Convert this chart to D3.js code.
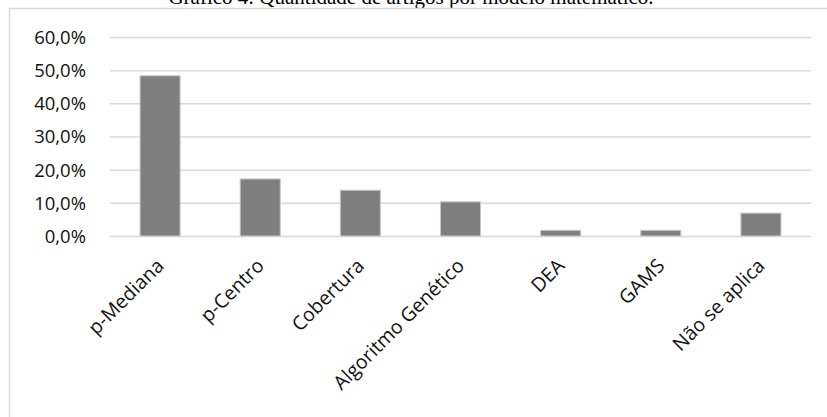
<!DOCTYPE html>
<html>
<head>
<meta charset="utf-8">
<script src="https://cdn.jsdelivr.net/npm/d3@7"></script>
<style>
  html, body { margin: 0; padding: 0; background: #fff; }
  svg { display: block; }
</style>
</head>
<body>
<svg id="chart" width="827" height="417"></svg>
<script>
// Share of articles per mathematical model
const categories = ["p-Mediana", "p-Centro", "Cobertura", "Algoritmo Genético", "DEA", "GAMS", "Não se aplica"];
const values = [0.483, 0.172, 0.138, 0.103, 0.017, 0.017, 0.069];
const yTicks = [0, 0.1, 0.2, 0.3, 0.4, 0.5, 0.6];
const title = "Gráfico 4: Quantidade de artigos por modelo matemático.";

const svg = d3.select("#chart");
const W = 827, H = 417;
const plot = { left: 110, right: 811, top: 37, bottom: 236 };
const labelFont = "'Open Sans', sans-serif";

// Title (sits above the chart frame)
svg.append("text")
  .attr("x", 411)
  .attr("y", 4)
  .attr("text-anchor", "middle")
  .attr("font-family", "'Liberation Serif', 'Times New Roman', serif")
  .attr("font-size", 21)
  .attr("fill", "#000")
  .text(title);

// Chart frame
svg.append("rect")
  .attr("x", 9.5).attr("y", 8.5)
  .attr("width", W + 10).attr("height", H + 10)
  .attr("fill", "#fff")
  .attr("stroke", "#d9d9d9")
  .attr("stroke-width", 1.5);

const x = d3.scaleBand()
  .domain(categories)
  .range([plot.left, plot.right])
  .paddingInner(0.6)
  .paddingOuter(0.3);

const y = d3.scaleLinear()
  .domain([0, 0.6])
  .range([plot.bottom, plot.top]);

const fmt = v => d3.format(".1f")(v * 100).replace(".", ",") + "%";

// Gridlines
svg.append("g")
  .attr("transform", `translate(${plot.left},0)`)
  .call(d3.axisLeft(y).tickValues(yTicks).tickSize(-(plot.right - plot.left)).tickFormat(""))
  .call(g => g.select(".domain").remove())
  .call(g => g.selectAll(".tick line").attr("stroke", "#d9d9d9").attr("stroke-width", 1.5));

// Y axis labels
svg.append("g")
  .attr("transform", "translate(86,0)")
  .call(d3.axisLeft(y).tickValues(yTicks).tickSize(0).tickPadding(0).tickFormat(fmt))
  .call(g => g.select(".domain").remove())
  .call(g => g.selectAll(".tick text")
    .attr("font-family", labelFont)
    .attr("font-size", 18.5)
    .attr("fill", "#111")
    .attr("dy", "0.35em"));

// Bars
svg.append("g")
  .selectAll("rect")
  .data(categories.map((c, i) => ({ c, v: values[i] })))
  .join("rect")
  .attr("x", d => x(d.c))
  .attr("y", d => y(d.v))
  .attr("width", x.bandwidth())
  .attr("height", d => y(0) - y(d.v))
  .attr("fill", "#7f7f7f")
  .attr("stroke", "#c8c8c8")
  .attr("stroke-width", 1);

// Category labels, rotated
svg.append("g")
  .attr("transform", `translate(0,${plot.bottom})`)
  .call(d3.axisBottom(x).tickSize(0).tickPadding(0))
  .call(g => g.select(".domain").remove())
  .call(g => g.selectAll(".tick text")
    .attr("font-family", labelFont)
    .attr("font-size", 19.5)
    .attr("fill", "#111")
    .attr("text-anchor", "end")
    .attr("x", 0)
    .attr("y", 0)
    .attr("dy", 0)
    .attr("transform", "translate(5,31) rotate(-45)"));
</script>
</body>
</html>
